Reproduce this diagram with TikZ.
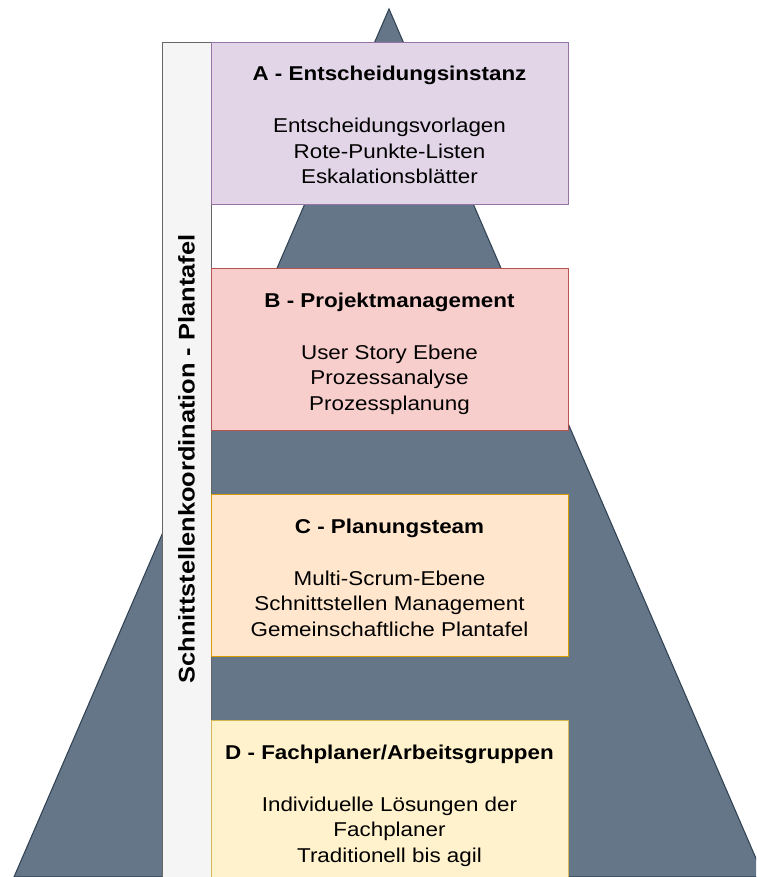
\documentclass[tikz,border=0pt]{standalone}
\usepackage{fontspec}
\setmainfont{Liberation Sans}[FakeStretch=1.12]
\definecolor{trifill}{HTML}{647687}
\definecolor{tridraw}{HTML}{314354}
\definecolor{barfill}{HTML}{F5F5F5}
\definecolor{bardraw}{HTML}{666666}
\definecolor{afill}{HTML}{E1D5E7}
\definecolor{adraw}{HTML}{9673A6}
\definecolor{bfill}{HTML}{F8CECC}
\definecolor{bdraw}{HTML}{B85450}
\definecolor{cfill}{HTML}{FFE6CC}
\definecolor{cdraw}{HTML}{D79B00}
\definecolor{dfill}{HTML}{FFF2CC}
\definecolor{ddraw}{HTML}{D6B656}
\begin{document}
\begin{tikzpicture}[x=0.75pt,y=-0.75pt,
  layerbox/.style={line width=1.1pt, anchor=north west, inner sep=0pt,
    minimum width=267.75pt},
  titletext/.style={anchor=base, inner sep=0pt, font=\fontsize{15pt}{18pt}\selectfont\bfseries},
  bodytext/.style={anchor=base, inner sep=0pt, font=\fontsize{15pt}{18pt}\selectfont},
  vtext/.style={rotate=90, inner sep=0pt, font=\fontsize{17pt}{20pt}\selectfont\bfseries}]
\useasboundingbox (0,0) rectangle (756,877);
\clip (0,0) rectangle (756,877);
\fill[white] (0,0) rectangle (756,877);
% pyramid
\draw[fill=trifill, draw=tridraw, line width=0.8pt] (389,9) -- (764,877) -- (14,877) -- cycle;
% side bar
\node[draw=bardraw, fill=barfill, line width=1.1pt, anchor=north west, inner sep=0pt,
  minimum width=36.75pt, minimum height=660pt] (bar) at (162,42) {};
\node[vtext] (bartext) at (186.5,459) {Schnittstellenkoordination - Plantafel};
% layers
\node[layerbox, draw=adraw, fill=afill, minimum height=121.5pt] (A) at (211,42) {};
\node[titletext] (At) at (389.5,{42+39}) {A - Entscheidungsinstanz};
\node[bodytext] (A1) at (389.5,{42+91}) {Entscheidungsvorlagen};
\node[bodytext] (A2) at (389.5,{42+116.5}) {Rote-Punkte-Listen};
\node[bodytext] (A3) at (389.5,{42+142}) {Eskalationsblätter};
\node[layerbox, draw=bdraw, fill=bfill, minimum height=121.5pt] (B) at (211,268) {};
\node[titletext] (Bt) at (389.5,{268+39}) {B - Projektmanagement};
\node[bodytext] (B1) at (389.5,{268+91}) {User Story Ebene};
\node[bodytext] (B2) at (389.5,{268+116.5}) {Prozessanalyse};
\node[bodytext] (B3) at (389.5,{268+142}) {Prozessplanung};
\node[layerbox, draw=cdraw, fill=cfill, minimum height=121.5pt] (C) at (211,494) {};
\node[titletext] (Ct) at (389.5,{494+39}) {C - Planungsteam};
\node[bodytext] (C1) at (389.5,{494+91}) {Multi-Scrum-Ebene};
\node[bodytext] (C2) at (389.5,{494+116.5}) {Schnittstellen Management};
\node[bodytext] (C3) at (389.5,{494+142}) {Gemeinschaftliche Plantafel};
\node[layerbox, draw=ddraw, fill=dfill, minimum height=135pt] (D) at (211,720) {};
\node[titletext] (Dt) at (389.5,{720+39}) {D - Fachplaner/Arbeitsgruppen};
\node[bodytext] (D1) at (389.5,{720+91}) {Individuelle Lösungen der};
\node[bodytext] (D2) at (389.5,{720+116.5}) {Fachplaner};
\node[bodytext] (D3) at (389.5,{720+142}) {Traditionell bis agil};
\end{tikzpicture}
\end{document}
